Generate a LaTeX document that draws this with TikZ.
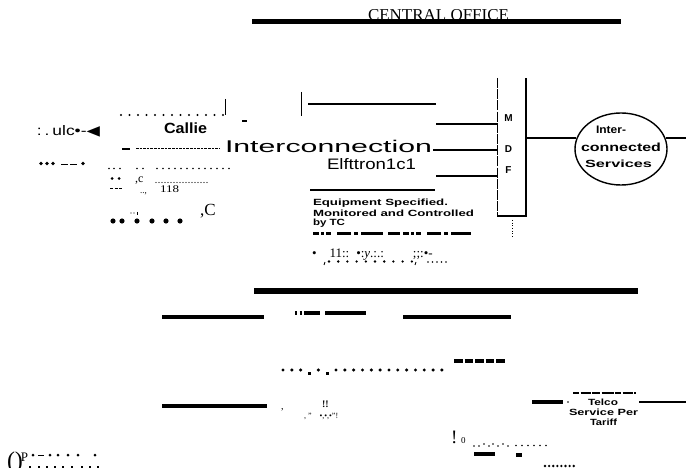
\documentclass[tikz,border=0pt]{standalone}
\usepackage{fontspec}
\setmainfont{Liberation Serif}
\setsansfont{Liberation Sans}
\newfontfamily\djv{DejaVu Sans}
\usepackage{graphicx}
\usetikzlibrary{shapes.geometric}
\tikzset{
  lbl/.style={inner sep=0pt, outer sep=0pt},
  bl/.style={lbl, anchor=base west},
  heavybar/.style={line width=5.5pt},
  rulebar/.style={line width=4pt},
  wire/.style={line width=2.4pt},
  fine/.style={line width=0.7pt},
  medln/.style={line width=1.6pt},
  blk/.style={fill=black, draw=none},
  boldtxt/.style={lbl, font=\sffamily\bfseries},
}
\newcommand{\rsfit}[3]{\resizebox{#1}{#2}{#3}}
\begin{document}
\begin{tikzpicture}[x=1pt,y=-1pt]
\useasboundingbox (0,0) rectangle (686,468);

% ---------- CENTRAL OFFICE ----------
\node[bl] (co) at (368,21) {\rsfit{141pt}{11pt}{CENTRAL OFFICE}};
\coordinate (coL) at (252,21.5);
\coordinate (coR) at (621,21.5);
\draw[heavybar] (coL) -- (coR);

% ---------- left texts ----------
\node[bl] (ulc) at (37,136) {\rsfit{63pt}{10pt}{\sffamily :\,.\,ulc•-{\djv ◀}}};
\foreach \x in {41,47,53} \fill[blk] (\x,163.5) circle[radius=1.8pt];
\coordinate (dshA) at (61,164.5);
\coordinate (dshB) at (78,164.5);
\draw[line width=1.3pt, dash pattern=on 7pt off 2pt] (dshA) -- (dshB);
\fill[blk] (83,163.5) circle[radius=1.8pt];

\foreach \i in {0,...,12} \fill[blk] (121+8.5*\i,115) circle[radius=1.2pt];
\coordinate (tk1) at (225,99);
\coordinate (tk2) at (225,115);
\draw[fine] (tk1) -- (tk2);

\node[bl] (callie) at (164,134) {\rsfit{43pt}{10.7pt}{\sffamily\bfseries Callie}};

\coordinate (sdA) at (122,149);
\coordinate (sdB) at (130,149);
\draw[line width=1.2pt] (sdA) -- (sdB);
\coordinate (ldA) at (136,149);
\coordinate (ldB) at (219,149);
\draw[line width=1pt, dash pattern=on 2.6pt off 1pt] (ldA) -- (ldB);

\node[bl] (icx) at (225,152.3) {\rsfit{207pt}{12.3pt}{\sffamily Interconnection}};
\node[bl] (elf) at (327,170) {\rsfit{89pt}{11pt}{\sffamily Elfttron1c1}};

% small punctuation row
\foreach \x in {109,114,120,137,143,157,163,169,175,181,187,193,199,205,211,217,223,229}
  \fill[blk] (\x,168.5) circle[radius=0.9pt];
% bullets and dashes
\foreach \x in {112,119} \fill[blk] (\x,178.5) circle[radius=1.5pt];
\coordinate (mdA) at (110,188.5);
\coordinate (mdB) at (123,188.5);
\draw[line width=1.2pt, dash pattern=on 3pt off 1.5pt] (mdA) -- (mdB);
\node[bl] (cc1) at (135,182.5) {\fontsize{12}{12}\selectfont ,c};
\foreach \i in {0,...,17} \fill[blk] (156+3*\i,182.5) circle[radius=0.55pt];
\node[bl] (dd1) at (140,193.5) {\fontsize{9}{9}\selectfont ..,};
\node[bl] (n118) at (160,193) {\rsfit{19pt}{6.8pt}{118}};
% big dots
\foreach \x in {113,122,137,152,166,180} \fill[blk] (\x,221) circle[radius=2.6pt];
\fill[blk] (131,213) circle[radius=0.7pt];
\fill[blk] (134,213) circle[radius=0.7pt];
\draw[line width=0.8pt] (137,212) -- (137,215.5);
\node[bl] (cc2) at (200,215) {\fontsize{17}{17}\selectfont ,C};

% ---------- interconnection block lines ----------
\coordinate (vA1) at (301,92);
\coordinate (vA2) at (301,116);
\draw[line width=1pt] (vA1) -- (vA2);
\coordinate (hA1) at (308,104);
\coordinate (hA2) at (436,104);
\draw[medln] (hA1) -- (hA2);
\coordinate (tdA) at (242,121);
\coordinate (tdB) at (247,121);
\draw[line width=2pt] (tdA) -- (tdB);
\coordinate (hB1) at (310,190);
\coordinate (hB2) at (435,190);
\draw[medln] (hB1) -- (hB2);

% ---------- MDF ----------
\node[lbl, minimum width=29pt, minimum height=138pt] (mdf) at (511.5,147) {};
\draw[line width=0.6pt, dash pattern=on 10pt off 1.2pt] (mdf.north west) -- (mdf.south west);
\draw[line width=1.5pt] (mdf.south west) -- (mdf.south east) -- (mdf.north east);
\node[boldtxt, font=\sffamily\bfseries\fontsize{10}{10}\selectfont] (lM) at (508.5,118.5) {M};
\node[boldtxt, font=\sffamily\bfseries\fontsize{10}{10}\selectfont] (lD) at (508.5,149.5) {D};
\node[boldtxt, font=\sffamily\bfseries\fontsize{10}{10}\selectfont] (lF) at (508.5,170.5) {F};
\coordinate (wM) at (436,124);
\coordinate (wD) at (433,150);
\coordinate (wF) at (436,176);
\draw[wire] (wM) -- (wM -| mdf.west);
\draw[wire] (wD) -- (wD -| mdf.west);
\draw[wire] (wF) -- (wF -| mdf.west);
\coordinate (dtA) at (512,220);
\coordinate (dtB) at (512,237);
\draw[line width=0.7pt, dotted] (dtA) -- (dtB);

% ---------- Interconnected services ----------
\node[draw, ellipse, line width=1.4pt, minimum width=92pt, minimum height=72pt, inner sep=0pt] (svc) at (621,149) {};
\node[bl] (s1) at (596,134) {\rsfit{30pt}{7.5pt}{\sffamily\bfseries Inter-}};
\node[bl] (s2) at (581,152) {\rsfit{80pt}{8.5pt}{\sffamily\bfseries connected}};
\node[bl] (s3) at (585,168) {\rsfit{67pt}{7.5pt}{\sffamily\bfseries Services}};
\coordinate (rEnd) at (686,139);
\draw[line width=1.5pt] (svc.166 -| mdf.east) -- (svc.166);
\draw[line width=1.5pt] (svc.14) -- (svc.14 -| rEnd);

% ---------- equipment note ----------
\node[bl] (eq1) at (313,205.5) {\rsfit{135pt}{6.5pt}{\sffamily\bfseries Equipment Specified.}};
\node[bl] (eq2) at (313,216.5) {\rsfit{161pt}{6.5pt}{\sffamily\bfseries Monitored and Controlled}};
\node[bl] (eq3) at (313,225.5) {\rsfit{32pt}{6.5pt}{\sffamily\bfseries by TC}};
\draw[line width=2.3pt, dash pattern=on 6pt off 2pt on 3pt off 2pt on 5pt off 6pt on 14pt off 3pt on 4pt off 3pt on 22pt off 5pt on 12pt off 3pt]
  (313,233.5) -- (471,233.5);

\node[bl] (gz1) at (312,257) {\fontsize{13}{13}\selectfont •\hspace{13pt}11::\hspace{7pt}•:\textit{y}.:.:\hspace{29pt};;:•-};
\draw[line width=0.8pt] (325,262) -- (324,265);
\foreach \i in {0,...,9} \fill[blk] (329+9.2*\i,261.5) circle[radius=1.3pt];
\draw[line width=0.8pt] (416,262) -- (415,265);
\foreach \i in {0,...,4} \fill[blk] (428+4.5*\i,262) circle[radius=0.8pt];

% ---------- lower bar and lines ----------
\coordinate (lbL) at (254,291);
\coordinate (lbR) at (638,291);
\draw[line width=6pt] (lbL) -- (lbR);
\coordinate (r1A) at (162,317);
\coordinate (r1B) at (264,317);
\draw[rulebar] (r1A) -- (r1B);
\coordinate (r2A) at (403,317);
\coordinate (r2B) at (511,317);
\draw[rulebar] (r2A) -- (r2B);
\draw[line width=3.5pt] (295,313) -- (297,313) (299.5,313) -- (302,313) (304,313) -- (320,313) (325,313) -- (366,313);

\coordinate (dsA) at (454,361);
\coordinate (dsB) at (506,361);
\draw[line width=4pt, dash pattern=on 8.5pt off 2pt] (dsA) -- (dsB);
\foreach \i in {0,1,2,4,6,7,...,18} \fill[blk] (283+8.83*\i,370) circle[radius=1.7pt];
\foreach \i in {3,5} \fill[blk] (281.5+8.83*\i,371.5) rectangle ++(3,3);

\coordinate (r3A) at (162,406);
\coordinate (r3B) at (267,406);
\draw[rulebar] (r3A) -- (r3B);
\node[bl] (pc1) at (281,409) {\fontsize{10}{10}\selectfont ,};
\node[bl] (pc2) at (322,407) {\fontsize{10}{10}\selectfont\bfseries !!};
\node[bl] (pc3) at (304,418) {\fontsize{8}{8}\selectfont ,\ '' \ \ \ \textbullet,\textbullet,\textbullet''!};

% ---------- telco tariff ----------
\draw[line width=2pt, dash pattern=on 6pt off 1.5pt on 10pt off 1.5pt on 8pt off 1.5pt on 12pt off 1.5pt] (573,392.5) -- (636,392.5);
\node[lbl] (t1) at (603,402) {\rsfit{30pt}{6.5pt}{\sffamily\bfseries Telco}};
\node[lbl] (t2) at (603.5,412) {\rsfit{69pt}{6.5pt}{\sffamily\bfseries Service Per}};
\node[lbl] (t3) at (603.5,422) {\rsfit{27pt}{6.5pt}{\sffamily\bfseries Tariff}};
\coordinate (tlA) at (532,402);
\coordinate (tlB) at (563,402);
\draw[line width=3.5pt] (tlA) -- (tlB);
\fill[blk] (568,402) circle[radius=0.9pt];
\coordinate (trA) at (639,402);
\coordinate (trB) at (686,402);
\draw[line width=2.5pt] (trA) -- (trB);

% ---------- bottom fragments ----------
\node[bl] (ex1) at (451,443) {\fontsize{19}{19}\selectfont !};
\node[bl] (ex2) at (461,443) {\fontsize{9}{9}\selectfont 0};
\foreach \x/\y in {474/446,479/446,484/444,489/446,493/444,498/446,503/444,508/446,516/445.5,522/445.5,528/445.5,534/445.5,540/445.5,546/445.5}
  \fill[blk] (\x,\y) circle[radius=0.8pt];
\draw[line width=4pt] (474,454) -- (495,454);
\draw[line width=3.5pt] (516,455) -- (522,455);
\foreach \i in {0,...,7} \fill[blk] (545+4.1*\i,466) circle[radius=1.3pt];

\node[bl] (bp) at (7,468) {\fontsize{24}{24}\selectfont ()\kern-2pt\raisebox{7pt}{\fontsize{13}{13}\selectfont P}};
\foreach \x in {33,50,58,68,78,95} \fill[blk] (\x,455) circle[radius=1.5pt];
\draw[line width=1.2pt] (38,455.5) -- (44,455.5);
\foreach \x in {30,39,47,55,63,72,82,90,98} \draw[line width=1.3pt] (\x,466) -- (\x,470);
\end{tikzpicture}
\end{document}
